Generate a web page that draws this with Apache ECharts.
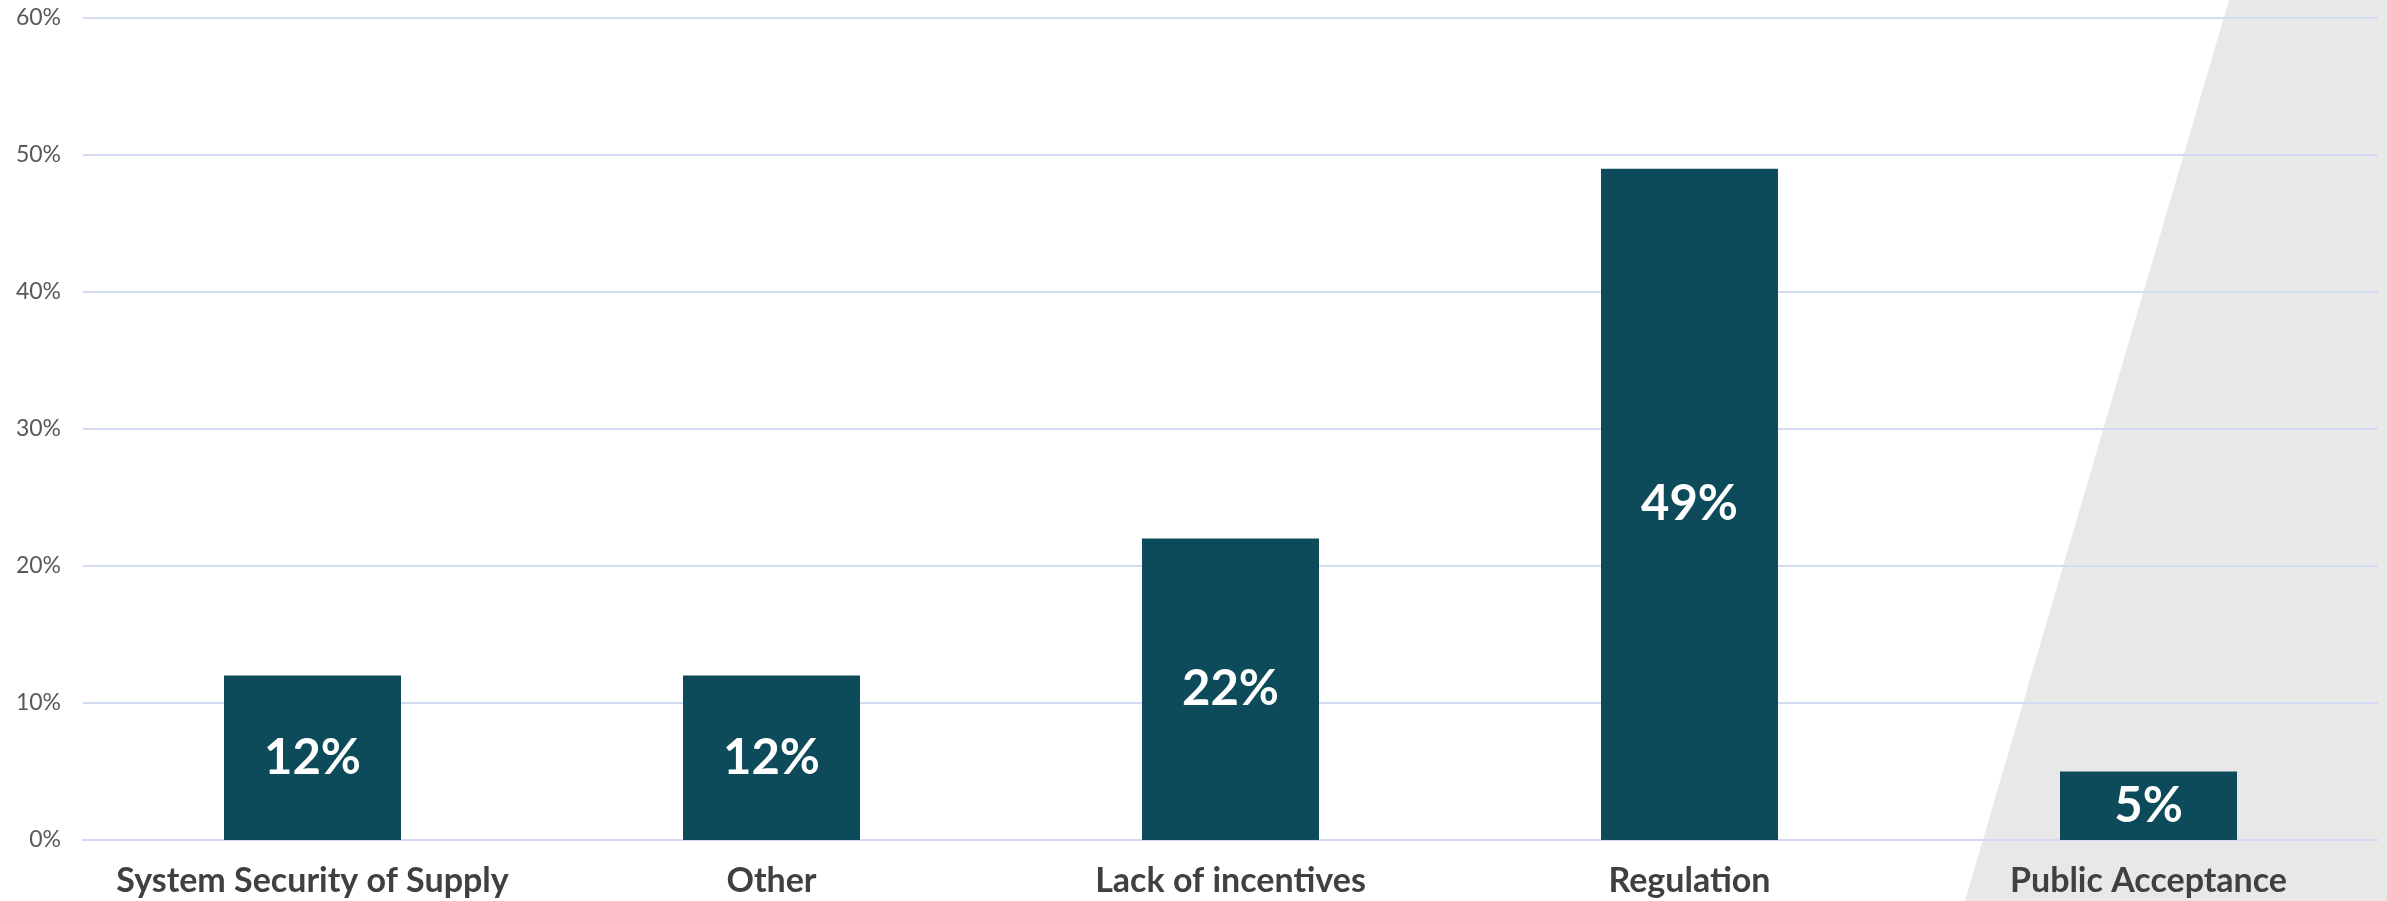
<!DOCTYPE html>
<html>
<head>
<meta charset="utf-8">
<script src="https://cdn.jsdelivr.net/npm/echarts@6/dist/echarts.min.js"></script>
<style>
html,body{margin:0;padding:0;background:#fff;}
#chart{width:2387px;height:901px;}
</style>
</head>
<body>
<div id="chart"></div>
<script>
const categories = ["System Security of Supply", "Other", "Lack of incentives", "Regulation", "Public Acceptance"];
const values = [12, 12, 22, 49, 5];
const yTicks = [0, 10, 20, 30, 40, 50, 60];

const chart = echarts.init(document.getElementById('chart'));
chart.setOption({
  animation: false,
  backgroundColor: '#ffffff',
  graphic: [{
    type: 'polygon',
    z: -10,
    silent: true,
    shape: { points: [[2229, 0], [2387, 0], [2387, 901], [1965, 901]] },
    style: { fill: '#e8e8e8' }
  }],
  grid: { left: 83, right: 9, top: 18, bottom: 61, containLabel: false },
  xAxis: {
    type: 'category',
    data: categories,
    axisLine: { show: true, lineStyle: { color: '#d3dbf3', width: 2 } },
    axisTick: { show: false },
    axisLabel: {
      interval: 0,
      color: '#404040', fontFamily: 'Lato', fontWeight: 'bold', fontSize: 34, margin: 24
    }
  },
  yAxis: {
    type: 'value',
    min: yTicks[0],
    max: yTicks[yTicks.length - 1],
    interval: 10,
    axisLine: { show: false },
    axisTick: { show: false },
    splitLine: { lineStyle: { color: '#d3dbf3', width: 2 } },
    axisLabel: {
      color: '#595959', fontFamily: 'Lato', fontSize: 23, margin: 22,
      formatter: v => v + '%'
    }
  },
  series: [{
    type: 'bar',
    data: values,
    barWidth: 177,
    itemStyle: { color: '#0d4b5b' },
    label: {
      show: true, position: 'inside', color: '#ffffff',
      fontFamily: 'Lato', fontWeight: 'bold', fontSize: 49,
      formatter: p => p.value + '%'
    }
  }]
});
</script>
</body>
</html>
